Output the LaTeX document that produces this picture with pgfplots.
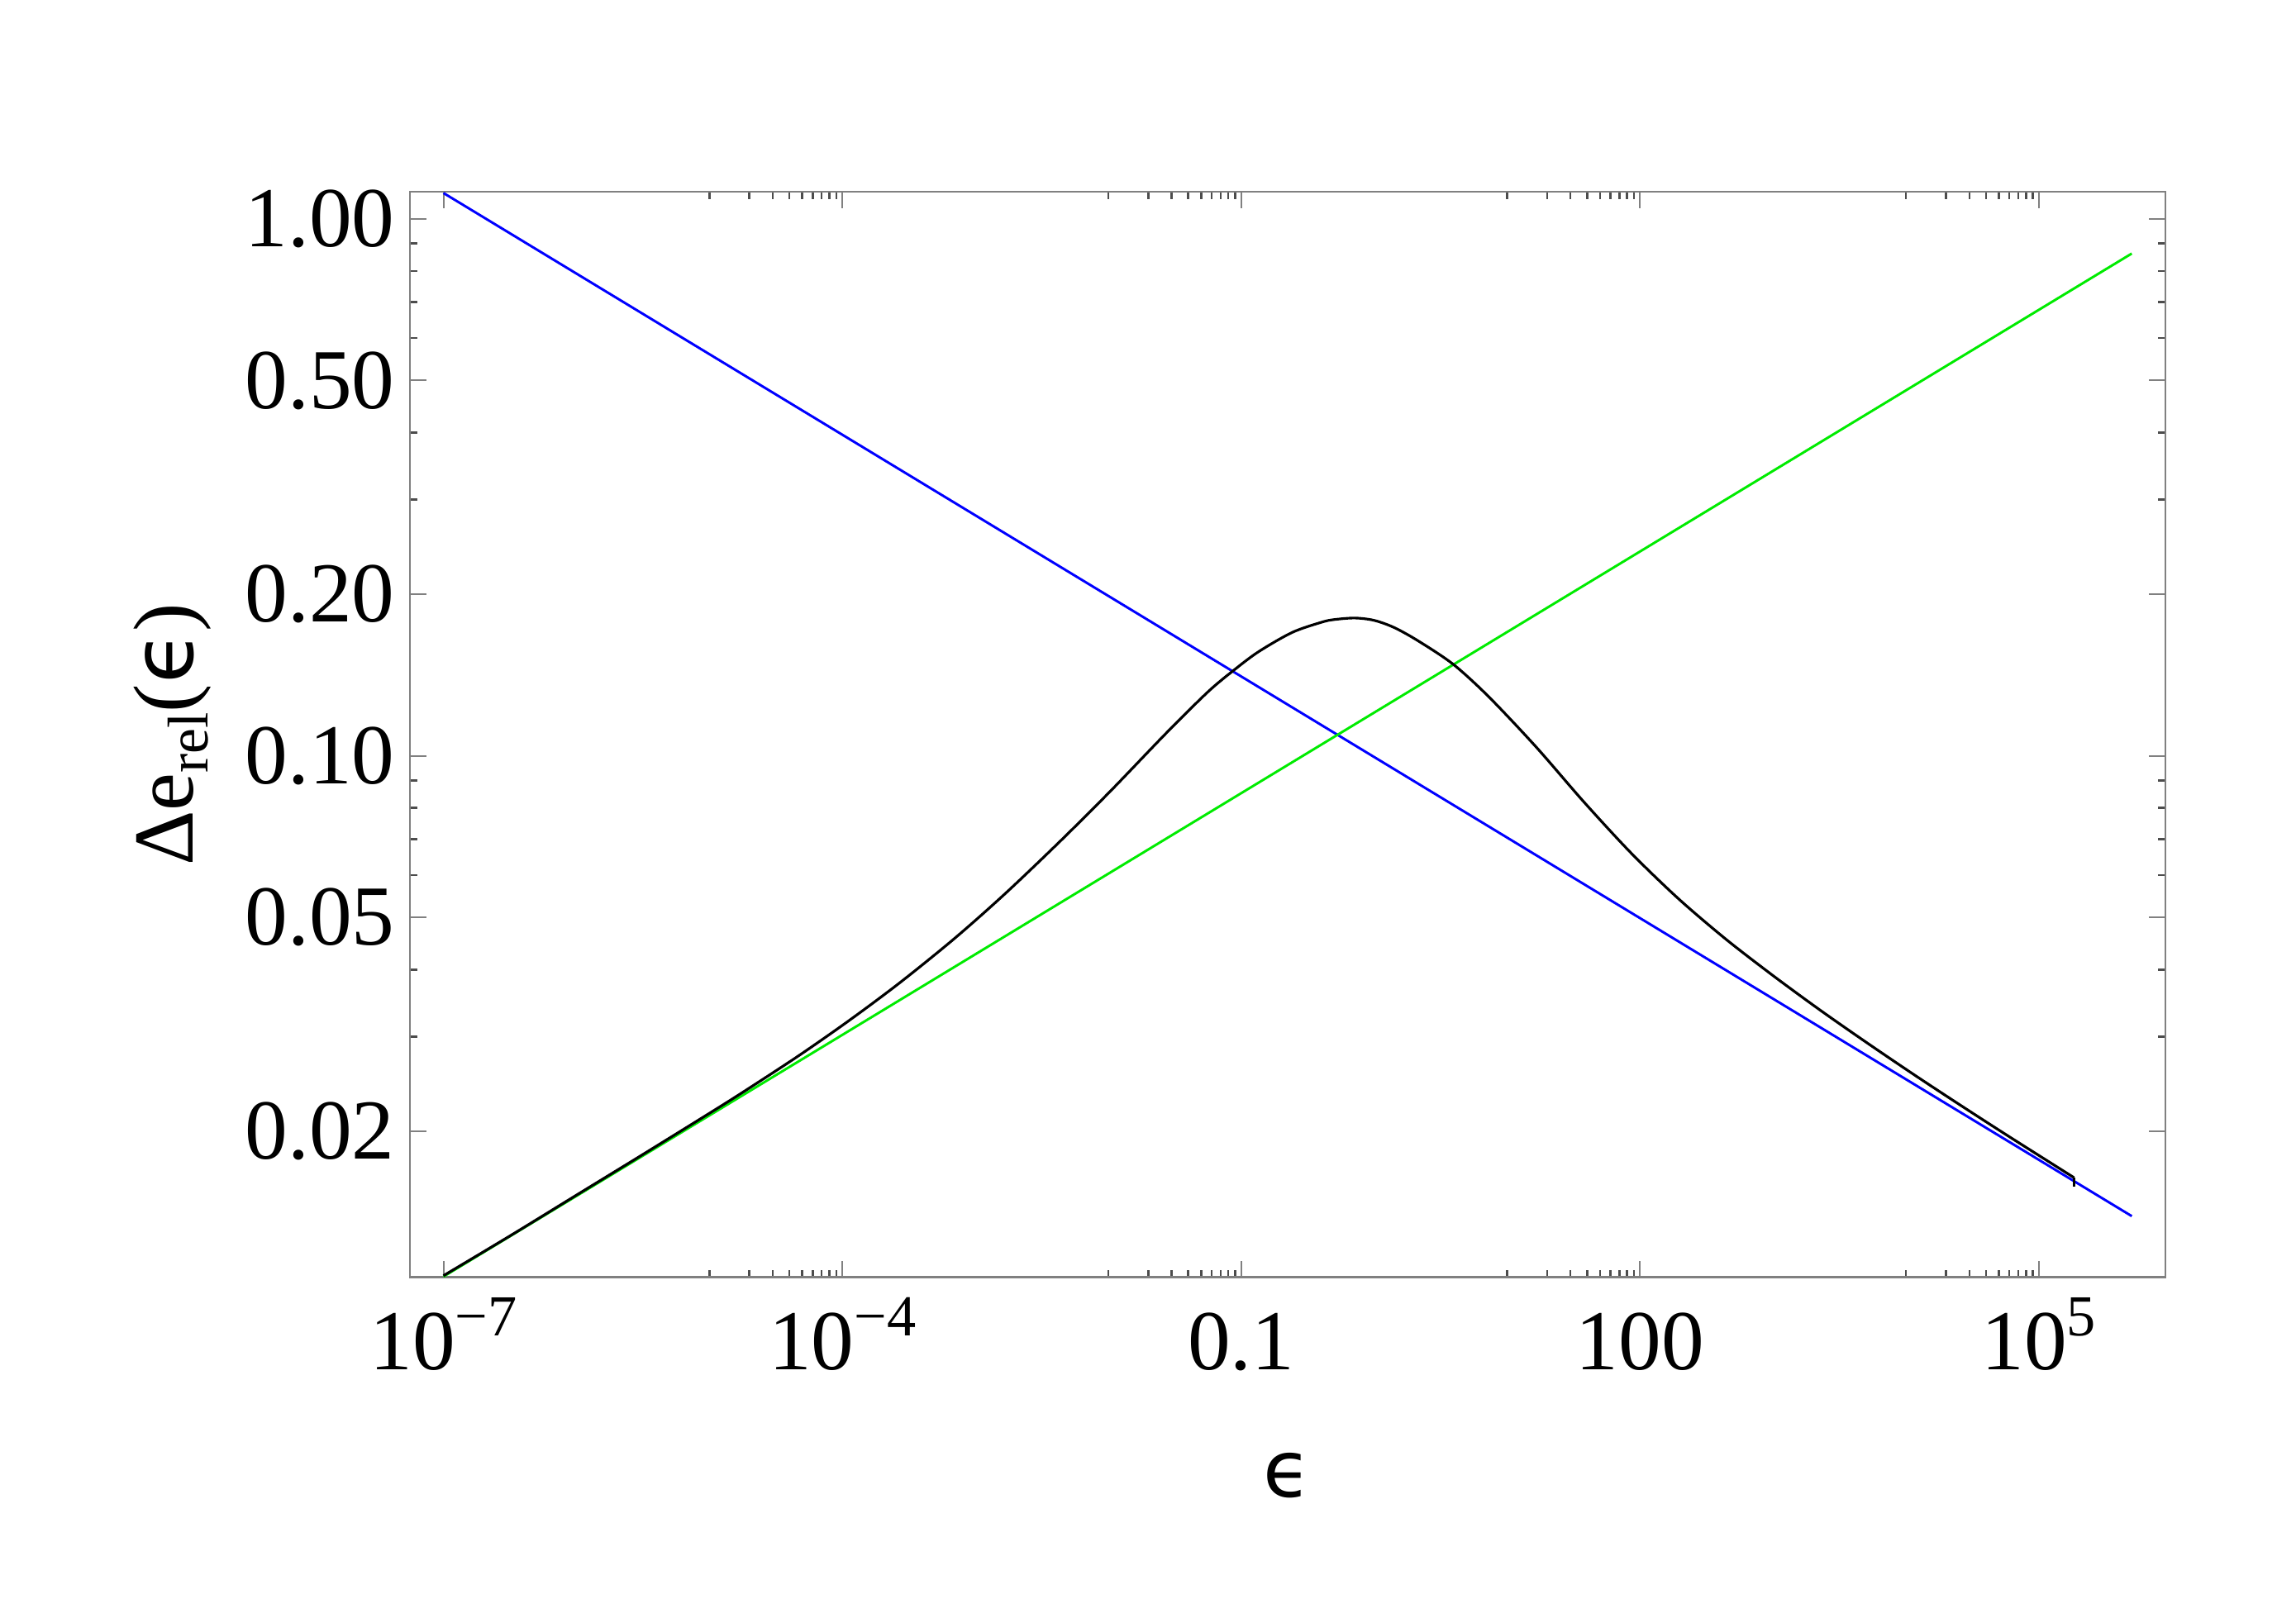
\documentclass[border=0pt]{standalone}
\usepackage{fontspec}
\setmainfont{Liberation Serif}
\newfontfamily\dejavu{DejaVu Sans}
\usepackage{pgfplots}
\pgfplotsset{compat=1.18}
\definecolor{framegray}{RGB}{128,128,128}
\definecolor{mblue}{RGB}{0,0,255}
\definecolor{mgreen}{RGB}{0,235,0}
\newcommand{\sups}[1]{\raisebox{0.39em}{\fontsize{10}{10}\selectfont #1}}
\begin{document}
\begin{tikzpicture}
\path[use as bounding box, fill=white] (-24.785mm,-19.425mm) rectangle (114.115mm,77.275mm);
\begin{axis}[
  at={(0mm,0mm)}, anchor=south west,
  scale only axis, width=106.22mm, height=65.66mm,
  xmode=log, ymode=log,
  xmin=5.57e-8, xmax=8.97e5, ymin=0.0107, ymax=1.122,
  axis line style={framegray, line width=0.3pt},
  tick align=inside, xtick pos=both, ytick pos=both,
  major tick length=1.0mm, minor tick length=0.45mm,
  major tick style={framegray, line width=0.3pt},
  minor tick style={black!70, line width=0.35pt},
  xtick={1e-7,1e-4,0.1,100,1e5},
  xticklabels={{10\sups{−7}},{10\sups{−4}},{0.1},{100},{10\sups{5}}},
  minor xtick={1e-5,2e-5,3e-5,4e-5,5e-5,6e-5,7e-5,8e-5,9e-5,0.01,0.02,0.03,0.04,0.05,0.06,0.07,0.08,0.09,10,20,30,40,50,60,70,80,90,1e4,2e4,3e4,4e4,5e4,6e4,7e4,8e4,9e4},
  ytick={0.02,0.05,0.1,0.2,0.5,1},
  yticklabels={0.02,0.05,0.10,0.20,0.50,1.00},
  minor ytick={0.03,0.04,0.06,0.07,0.08,0.09,0.3,0.4,0.6,0.7,0.8,0.9},
  tick label style={font=\fontsize{14.7}{17}\selectfont, text=black},
  xticklabel style={anchor=base, yshift=-5.58mm, inner sep=0pt},
  yticklabel style={anchor=east, inner xsep=0.84mm, inner ysep=0pt},
  xlabel={{\dejavu ϵ}},
  ylabel={Δe\raisebox{-0.18em}{\fontsize{9.9}{11}\selectfont rel}({\dejavu ϵ})},
  every axis x label/.style={at={(axis description cs:0.5,0)}, anchor=base, yshift=-13.31mm, font=\fontsize{13.5}{16}\selectfont},
  every axis y label/.style={at={(axis description cs:-0.1235,0.5)}, rotate=90, anchor=base, font=\fontsize{14.7}{17}\selectfont},
  clip=true,
]
\addplot[mblue, line width=0.42pt] coordinates {(1e-7,1.117) (5.0e5,0.01390)};
\addplot[mgreen, line width=0.42pt] coordinates {(1e-7,0.010726) (5.0e5,0.8618)};
\addplot[black, line width=0.45pt, smooth, tension=0.5] coordinates {
(1e-7,0.01077)
(3.162e-7,0.01277)
(1e-6,0.01521)
(3.162e-6,0.01811)
(1e-5,0.02160)
(1.803e-5,0.02368)
(4.667e-5,0.02762)
(1.122e-4,0.03214)
(2.698e-4,0.03779)
(6.982e-4,0.04571)
(1.679e-3,0.05540)
(4.345e-3,0.06934)
(1.045e-2,0.08610)
(2.698e-2,0.1099)
(5.610e-2,0.1315)
(8.690e-2,0.1440)
(0.1346,0.1562)
(0.2421,0.1698)
(0.4036,0.1774)
(0.5012,0.1794)
(0.7161,0.1806)
(1.0,0.1788)
(1.406,0.1735)
(2.123,0.1640)
(3.936,0.1481)
(7.295,0.1288)
(16.60,0.1038)
(37.76,0.08213)
(85.90,0.06590)
(195.4,0.05416)
(444.6,0.04553)
(1014,0.03890)
(2307,0.03351)
(5248,0.02908)
(11967,0.02533)
(27227,0.02216)
(61944,0.01944)
(1.837e5,0.01640)
};
\addplot[black, line width=0.45pt] coordinates {(1.837e5,0.01640) (1.837e5,0.01578)};
\end{axis}
\end{tikzpicture}
\end{document}
